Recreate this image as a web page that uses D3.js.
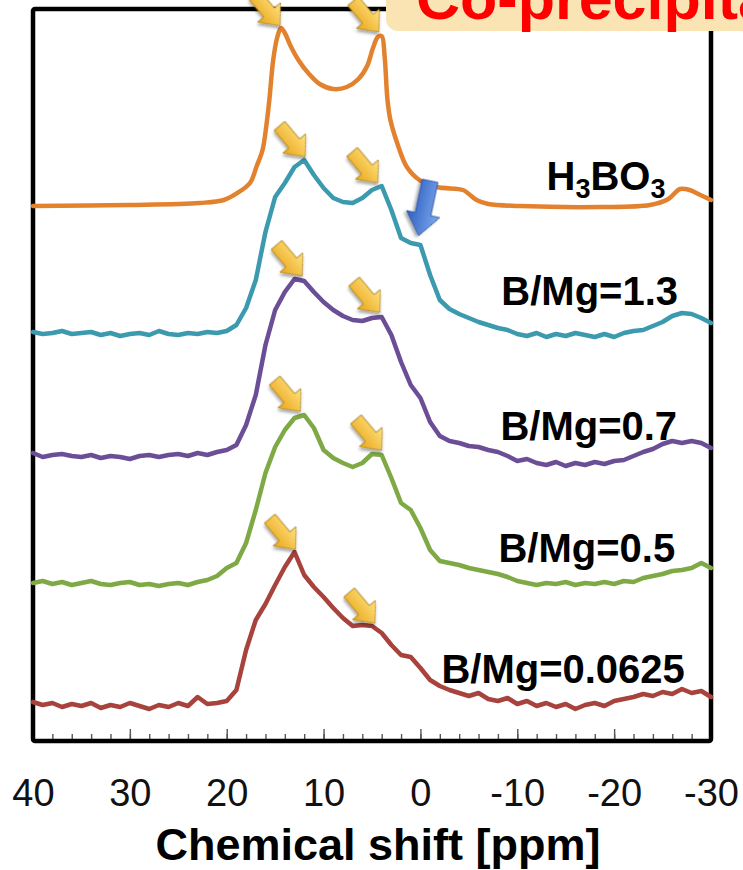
<!DOCTYPE html>
<html>
<head>
<meta charset="utf-8">
<title>11B NMR spectra</title>
<script src="https://d3js.org/d3.v7.min.js"></script>
<style>
  body { margin: 0; background: #fff; }
  svg { display: block; font-family: "Liberation Sans", Arial, sans-serif; }
</style>
</head>
<body>
<svg width="743" height="870"></svg>
<script>
// chemical shift grid of the measured (noisy) spectra, ppm
var shifts = [40,39,38,37,36,35,34,33,32,31,30,29,28,27,26,25,24,23,22,21,
  20,19,18,17,16,15,14,13,12,11,10,9,8,7,6,5,4,3,2,1,
  0,-1,-2,-3,-4,-5,-6,-7,-8,-9,-10,-11,-12,-13,-14,-15,-16,-17,-18,-19,
  -20,-21,-22,-23,-24,-25,-26,-27,-28,-29,-30];

// intensities (a.u.), relative to each trace's baseline
var bmg13 = [1,-1,0,2,-1,0,1,-2,0,-3, -1,0,-2,2,-1,-2,0,-1,1,0,
  2,8,25,53,101,136,150,166,173,158, 145,135,131,130,135,143,147,123,95,90,
  88,58,33,24,19,15,11,8,5,3, -1,-3,0,-4,-1,-3,0,-2,-4,-1,
  -4,0,2,3,7,11,17,20,19,15, 10];
var bmg07 = [2,-2,0,1,-1,-2,0,-3,-1,-2, -4,-1,0,-2,0,1,-1,2,0,3,
  5,10,30,60,110,145,163,176,174,163, 153,145,139,135,134,137,138,120,93,70,
  57,33,19,14,12,9,8,5,3,-1, -6,-4,-8,-10,-7,-11,-8,-10,-7,-9,
  -6,-5,-1,3,6,11,14,12,14,12, 7];
var bmg05 = [0,2,-1,1,-2,0,2,-1,-2,0, 1,-2,-1,-3,-1,0,-2,1,3,7,
  15,20,40,73,110,136,153,165,168,155, 133,125,120,116,120,129,128,105,80,73,
  55,33,22,20,18,15,13,11,9,6, 2,0,-2,0,-1,1,-2,0,-1,1,
  -1,2,1,5,7,9,12,13,15,20, 15];
var bmg00625 = [1,-2,0,-4,-1,-3,0,-5,-2,-4, 0,-3,-6,-2,-4,0,-3,6,-1,0,
  2,13,53,83,99,118,136,151,128,116, 106,95,85,77,78,77,70,58,48,46,
  35,23,17,13,10,7,10,4,2,5, -1,2,-3,0,-4,-1,-6,-2,0,-3,
  2,4,6,9,7,11,9,14,10,12, 6];

// boric acid reference, smooth trace: [ppm, intensity]
var h3bo3 = [[40,0],[30,1],[22.8,3],[20.3,6],[18.9,13],[17.6,23],[16.9,40],[16.3,56],
  [15.9,81],[15.6,106],[15.2,146],[14.8,168],[14.4,178],[14.0,173],[13.4,160],[12.6,146],
  [11.5,132],[10.4,122],[9.0,117],[7.6,119],[6.4,127],[5.5,140],[4.9,158],[4.4,169],
  [4.0,170],[3.7,150],[3.4,106],[3.1,86],[2.4,63],[1.4,39],[0.1,26],[-1.7,19],
  [-4.4,16],[-5.0,12],[-5.8,6],[-7.0,2],[-10.3,0],[-18.5,-1],[-23.7,1],[-25.6,7],
  [-26.8,17],[-27.8,16],[-28.9,11],[-30,6]];

var names = ["H3BO3", "B/Mg=1.3", "B/Mg=0.7", "B/Mg=0.5", "B/Mg=0.0625"];
var offsets = [535, 408, 286, 158, 38];   // stacking offset of each trace
var majorTicks = [40, 30, 20, 10, 0, -10, -20, -30];
var minorTicks = d3.range(40, -31, -2);

// peaks marked with arrows: trace index, ppm
var peakMarks = [[0,14.5],[0,4.3],[1,11.9],[1,4.4],[2,12.2],[2,4.2],[3,12.4],[3,4.0],[4,12.9],[4,4.7]];
var shoulderMark = [1, 0.2];

var colors = ["#E2822F", "#3C9AAF", "#6B4E95", "#7EA945", "#A8423D"];

var svg = d3.select("svg");
var W = 743, H = 870;
var mLeft = 33, mRight = 711, mTop = 9, mBottom = 741;

var x = d3.scaleLinear().domain([40, -30]).range([mLeft, mRight]);
var y = d3.scaleLinear().domain([0, mBottom - mTop]).range([mBottom, mTop]);

var traces = [
  h3bo3,
  shifts.map(function(s, i) { return [s, bmg13[i]]; }),
  shifts.map(function(s, i) { return [s, bmg07[i]]; }),
  shifts.map(function(s, i) { return [s, bmg05[i]]; }),
  shifts.map(function(s, i) { return [s, bmg00625[i]]; })
];

function valueAt(tr, p) {
  for (var i = 0; i < tr.length - 1; i++) {
    var a = tr[i], b = tr[i + 1];
    if (p <= a[0] && p >= b[0]) {
      var t = (a[0] - p) / (a[0] - b[0]);
      return a[1] + t * (b[1] - a[1]);
    }
  }
  return 0;
}

var defs = svg.append("defs");
var gy = defs.append("linearGradient").attr("id", "gold").attr("x1", 0).attr("y1", 0).attr("x2", 0).attr("y2", 1);
gy.append("stop").attr("offset", "0%").attr("stop-color", "#FFE27E");
gy.append("stop").attr("offset", "100%").attr("stop-color", "#EAA61C");
var gb = defs.append("linearGradient").attr("id", "blue").attr("x1", 0).attr("y1", 0).attr("x2", 0).attr("y2", 1);
gb.append("stop").attr("offset", "0%").attr("stop-color", "#7EA9EE");
gb.append("stop").attr("offset", "100%").attr("stop-color", "#2E5EC0");
var sh = defs.append("filter").attr("id", "shadow").attr("x", "-30%").attr("y", "-30%").attr("width", "160%").attr("height", "160%");
sh.append("feDropShadow").attr("dx", 2).attr("dy", 2).attr("stdDeviation", 1.6)
  .attr("flood-color", "#000").attr("flood-opacity", 0.35);

svg.append("rect").attr("width", W).attr("height", H).attr("fill", "#fff");

// ticks
var minorAxis = svg.append("g").attr("transform", "translate(0," + mBottom + ")")
  .call(d3.axisBottom(x).tickValues(minorTicks).tickSize(-7).tickFormat(""));
var majorAxis = svg.append("g").attr("transform", "translate(0," + mBottom + ")")
  .call(d3.axisBottom(x).tickValues(majorTicks).tickSize(-12).tickPadding(38)
    .tickFormat(function(d) { return String(d); }));
svg.selectAll(".domain").remove();
svg.selectAll(".tick line").attr("stroke", "#555").attr("stroke-width", 1.4);
majorAxis.selectAll("text").attr("font-size", 38).attr("fill", "#111")
  .attr("font-family", "Liberation Sans, Arial, sans-serif");

// frame
svg.append("rect").attr("x", mLeft).attr("y", mTop)
  .attr("width", mRight - mLeft).attr("height", mBottom - mTop)
  .attr("fill", "none").attr("stroke", "#000").attr("stroke-width", 4.5).attr("rx", 2);

// spectra
traces.forEach(function(tr, k) {
  var line = d3.line()
    .x(function(d) { return x(d[0]); })
    .y(function(d) { return y(d[1] + offsets[k]); })
    .curve(k === 0 ? d3.curveCatmullRom.alpha(0.5) : d3.curveLinear);
  svg.append("path").datum(tr).attr("d", line)
    .attr("fill", "none").attr("stroke", colors[k]).attr("stroke-width", 4.5)
    .attr("stroke-linejoin", "round").attr("stroke-linecap", "round");
});

// trace labels: [end ppm, height above baseline]
var labelPos = [[-25.3, 16], [-26.6, 28], [-26.5, 15], [-26.3, 21], [-27.3, 20]];
names.forEach(function(n, k) {
  var t = svg.append("text").attr("text-anchor", "end")
    .attr("x", x(labelPos[k][0])).attr("y", y(offsets[k] + labelPos[k][1]))
    .attr("font-size", 40).attr("font-weight", "bold").attr("fill", "#000");
  if (n === "H3BO3") {
    t.append("tspan").text("H");
    t.append("tspan").text("3").attr("font-size", 27).attr("dy", 8);
    t.append("tspan").text("BO").attr("dy", -8);
    t.append("tspan").text("3").attr("font-size", 27).attr("dy", 8);
  } else {
    t.text(n);
  }
});

// arrows
var goldArrow = "M0,0 L-17,-15 L-17,-7 L-40,-7 L-40,7 L-17,7 L-17,15 Z";
var blueArrow = "M0,0 L-22,-17 L-22,-8 L-56,-8 L-56,8 L-22,8 L-22,17 Z";
svg.append("g").selectAll("path").data(peakMarks).enter().append("path")
  .attr("d", goldArrow)
  .attr("transform", function(d) {
    var px = x(d[1]), py = y(valueAt(traces[d[0]], d[1]) + offsets[d[0]]) - 5;
    return "translate(" + px + "," + py + ") rotate(50)";
  })
  .attr("fill", "url(#gold)").attr("stroke", "#A57E1C").attr("stroke-width", 0.8)
  .attr("filter", "url(#shadow)");
svg.append("path").attr("d", blueArrow)
  .attr("transform", "translate(" + x(shoulderMark[1]) + "," +
    (y(valueAt(traces[shoulderMark[0]], shoulderMark[1]) + offsets[shoulderMark[0]]) - 9) + ") rotate(102)")
  .attr("fill", "url(#blue)").attr("stroke", "#2A4F9A").attr("stroke-width", 0.8)
  .attr("filter", "url(#shadow)");

// axis title
svg.append("text").attr("x", 378).attr("y", 860).attr("text-anchor", "middle")
  .attr("font-size", 45).attr("font-weight", "bold").attr("fill", "#000")
  .text("Chemical shift [ppm]");

// callout box at the top
svg.append("rect").attr("x", 386).attr("y", -30).attr("width", 420).attr("height", 61)
  .attr("rx", 12).attr("fill", "#FBE4B4");
svg.append("text").attr("x", 416).attr("y", 19)
  .attr("font-size", 61).attr("font-weight", "bold").attr("fill", "#FF0000")
  .text("Co-precipitation");
</script>
</body>
</html>
